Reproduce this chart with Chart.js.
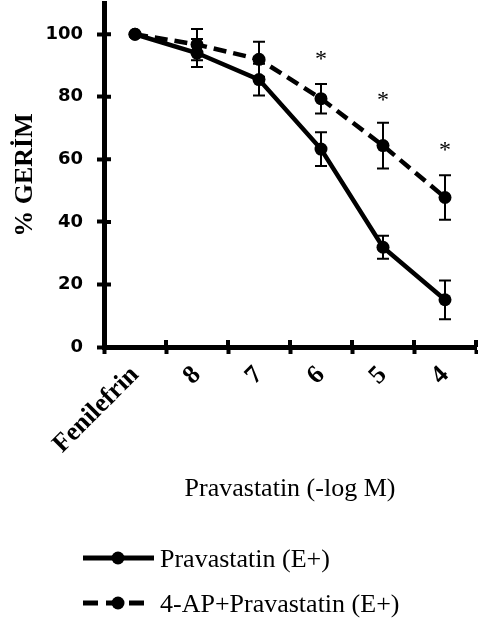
<!DOCTYPE html>
<html>
<head>
<meta charset="utf-8">
<script src="https://cdn.jsdelivr.net/npm/chart.js@4.4.1/dist/chart.umd.min.js"></script>
<style>
  html, body { margin: 0; padding: 0; background: #fff; }
  #wrap { width: 478px; height: 623px; position: relative; }
</style>
</head>
<body>
<div id="wrap"><canvas id="chart"></canvas></div>
<script>
/* ---- data ---- */
const categories      = ['Fenilefrin', '8', '7', '6', '5', '4'];
const pravastatin     = [100, 94, 85.5, 63.3, 31.9, 15.1];
const pravastatinErr  = [0, 4.5, 5.1, 5.4, 3.7, 6.2];
const apPravastatin   = [100, 96.7, 92, 79.4, 64.4, 47.8];
const apPravastatinErr = [0, 5, 5.6, 4.7, 7.3, 7.1];
const starValues      = [null, null, null, 92.8, 79.6, 63.6];   // where the * sit
const yTicks          = [0, 20, 40, 60, 80, 100];

const SERIF = "'Liberation Serif', 'Times New Roman', serif";
const SANS  = "'DejaVu Sans', sans-serif";

/* ---- error bars, inner tick halves, asterisks, legend ---- */
const extras = {
  id: 'extras',
  afterDatasetsDraw(chart) {
    const ctx = chart.ctx;
    const x = chart.scales.x, y = chart.scales.y;
    const errs = [pravastatinErr, apPravastatinErr];
    ctx.save();
    ctx.strokeStyle = '#000';
    ctx.lineWidth = 2;
    chart.data.datasets.forEach((ds, di) => {
      ds.data.forEach((v, i) => {
        const e = errs[di][i];
        if (!e) return;
        const px = x.getPixelForValue(i);
        const top = y.getPixelForValue(v + e);
        const bot = y.getPixelForValue(v - e);
        ctx.beginPath();
        ctx.moveTo(px, top); ctx.lineTo(px, bot);
        ctx.moveTo(px - 6, top); ctx.lineTo(px + 6, top);
        ctx.moveTo(px - 6, bot); ctx.lineTo(px + 6, bot);
        ctx.stroke();
      });
    });

    // asterisks
    ctx.fillStyle = '#000';
    ctx.font = '24px ' + SERIF;
    ctx.textAlign = 'center';
    ctx.textBaseline = 'alphabetic';
    starValues.forEach((v, i) => {
      if (v == null) return;
      ctx.fillText('*', x.getPixelForValue(i), y.getPixelForValue(v) + 9);
    });
    ctx.restore();
  },
  afterDraw(chart) {
    const ctx = chart.ctx;
    const a = chart.chartArea;
    const x = chart.scales.x, y = chart.scales.y;
    ctx.save();
    ctx.strokeStyle = '#000';
    ctx.lineWidth = 4;
    ctx.beginPath();
    yTicks.forEach(v => {
      const py = y.getPixelForValue(v);
      ctx.moveTo(a.left, py); ctx.lineTo(a.left + 7, py);
    });
    for (let i = 0; i <= categories.length; i++) {
      const px = x.getPixelForValue(i - 0.5);
      ctx.moveTo(px, a.bottom); ctx.lineTo(px, a.bottom - 7);
    }
    ctx.stroke();

    // legend: line sample with a dot in the middle
    const rows = [558, 603];
    chart.data.datasets.forEach((ds, i) => {
      const ly = rows[i];
      const dashed = ds.borderDash && ds.borderDash.length;
      ctx.lineWidth = 5;
      ctx.setLineDash(dashed ? [15, 8] : []);
      ctx.beginPath();
      ctx.moveTo(83, ly);
      ctx.lineTo(dashed ? 144 : 154, ly);
      ctx.stroke();
      ctx.setLineDash([]);
      ctx.beginPath();
      ctx.arc(118, ly, 6.5, 0, Math.PI * 2);
      ctx.fillStyle = '#000';
      ctx.fill();
      ctx.font = '26px ' + SERIF;
      ctx.textAlign = 'left';
      ctx.textBaseline = 'alphabetic';
      ctx.fillText(ds.label, 160, ly + 9);
    });
    ctx.restore();
  }
};

new Chart(document.getElementById('chart'), {
  type: 'line',
  data: {
    labels: categories,
    datasets: [
      {
        label: 'Pravastatin (E+)',
        data: pravastatin,
        borderColor: '#000',
        borderWidth: 4.5,
        borderDash: [],
        pointRadius: 6.5,
        pointHoverRadius: 6.5,
        pointBackgroundColor: '#000',
        pointBorderWidth: 0,
        tension: 0
      },
      {
        label: '4-AP+Pravastatin (E+)',
        data: apPravastatin,
        borderColor: '#000',
        borderWidth: 4.5,
        borderDash: [13, 7],
        pointRadius: 6.5,
        pointHoverRadius: 6.5,
        pointBackgroundColor: '#000',
        pointBorderWidth: 0,
        tension: 0
      }
    ]
  },
  options: {
    responsive: true,
    maintainAspectRatio: false,
    animation: false,
    devicePixelRatio: 1,
    layout: { autoPadding: false, padding: { top: 3, right: 2, left: 0, bottom: 0 } },
    plugins: {
      legend: { display: false },
      tooltip: { enabled: false }
    },
    scales: {
      x: {
        type: 'category',
        offset: true,
        afterFit: s => {
          s.height = 276;
          s.paddingLeft = 0; s.paddingRight = 0;
        },
        grid: {
          display: true, offset: true, drawOnChartArea: false,
          tickLength: 7, tickWidth: 4, tickColor: '#000', color: '#000'
        },
        border: { display: true, width: 5, color: '#000' },
        ticks: {
          color: '#000',
          font: { family: SERIF, size: 26, weight: 'bold' },
          minRotation: 45, maxRotation: 45,
          padding: 6
        },
        title: {
          display: true,
          text: 'Pravastatin (-log M)',
          color: '#000',
          font: { family: SERIF, size: 26 },
          padding: { top: 0, bottom: 118 }
        }
      },
      y: {
        min: 0, max: 110,
        afterFit: s => {
          s.width = 104;
          s.paddingTop = 0; s.paddingBottom = 0;
        },
        afterBuildTicks: s => { s.ticks = yTicks.map(v => ({ value: v })); },
        grid: {
          display: true, drawOnChartArea: false,
          tickLength: 7, tickWidth: 4, tickColor: '#000', color: '#000'
        },
        border: { display: true, width: 5, color: '#000' },
        ticks: {
          color: '#000',
          font: { family: SANS, size: 18, weight: 'bold' },
          padding: 14
        },
        title: {
          display: true,
          text: '% GERİM',
          color: '#000',
          font: { family: SERIF, size: 26, weight: 'bold' },
          padding: { top: 10, bottom: 0 }
        }
      }
    }
  },
  plugins: [extras]
});
</script>
</body>
</html>
